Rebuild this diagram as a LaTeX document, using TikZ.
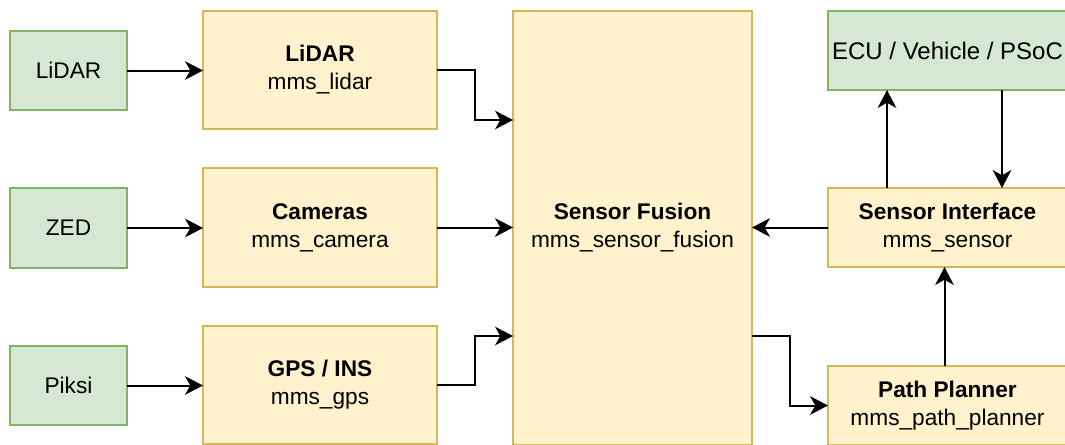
\documentclass[tikz,border=0pt]{standalone}
\usepackage{fontspec}
\setmainfont{Liberation Sans}
\usetikzlibrary{arrows.meta}
\definecolor{gfill}{HTML}{D5E8D4}
\definecolor{gline}{HTML}{82B366}
\definecolor{yfill}{HTML}{FFF2CC}
\definecolor{yline}{HTML}{D6B656}
\begin{document}
\begin{tikzpicture}[x=0.75pt,y=-0.75pt,
  every node/.style={inner sep=0pt, outer sep=0pt, align=center,
    font=\fontsize{17}{21}\selectfont},
  gbox/.style={draw=gline, fill=gfill, line width=1.5pt, text depth=-3pt},
  ybox/.style={draw=yline, fill=yfill, line width=1.5pt},
  arr/.style={draw=black, line width=1.5pt,
    -{Stealth[length=13.5pt,width=14pt,inset=4pt]}}]
\useasboundingbox (0,0) rectangle (1065,444);
\clip (0,0) rectangle (1065,444);
\fill[white] (0,0) rectangle (1065,444);
% green sources
\node[gbox, minimum width=87.75pt, minimum height=59.25pt] (gL) at (68.5,70.5) {LiDAR};
\node[gbox, minimum width=87.75pt, minimum height=60pt] (gZ) at (68.5,228) {ZED};
\node[gbox, minimum width=87.75pt, minimum height=59.25pt] (gP) at (68.5,385.5) {Piksi};
% yellow drivers
\node[ybox, minimum width=175.5pt, minimum height=88.5pt] (yL) at (320,70) {\textbf{LiDAR}\\mms\_lidar};
\node[ybox, minimum width=175.5pt, minimum height=89.25pt] (yC) at (320,227.5) {\textbf{Cameras}\\mms\_camera};
\node[ybox, minimum width=175.5pt, minimum height=88.5pt] (yG) at (320,385) {\textbf{GPS / INS}\\mms\_gps};
% sensor fusion
\node[ybox, minimum width=179.25pt, minimum height=325.5pt] (sf) at (632.5,228) {\textbf{Sensor Fusion}\\mms\_sensor\_fusion};
% right column
\node[draw=gline, fill=gfill, line width=1.5pt, minimum width=179.25pt, minimum height=59.25pt, font=\fontsize{18}{21}\selectfont] (ecu) at (947.5,50.5) {ECU / Vehicle / PSoC};
\node[ybox, minimum width=179.25pt, minimum height=59.25pt] (si) at (947.5,227.5) {\textbf{Sensor Interface}\\mms\_sensor};
\node[ybox, minimum width=179.25pt, minimum height=59.25pt] (pp) at (947.5,405.5) {\textbf{Path Planner}\\mms\_path\_planner};
% helper coordinates
\coordinate (k1) at (475,120);
\coordinate (k2) at (475,336);
\coordinate (k3) at (790,336);
\coordinate (c1) at (887,0);
\coordinate (c2) at (1002,0);
\coordinate (c3) at (944.5,0);
% connectors
\draw[arr] (gL.east) -- (yL.west |- gL.east);
\draw[arr] (gZ.east) -- (yC.west |- gZ.east);
\draw[arr] (gP.east) -- (yG.west |- gP.east);
\draw[arr] (yL.east) -| (k1) -- (k1 -| sf.west);
\draw[arr] (yC.east) -- (sf.west |- yC.east);
\draw[arr] (yG.east) -| (k2) -- (k2 -| sf.west);
\draw[arr] (si.west) -- (si.west -| sf.east);
\draw[arr] (si.north -| c1) -- (ecu.south -| c1);
\draw[arr] (ecu.south -| c2) -- (si.north -| c2);
\draw[arr] (sf.east |- k3) -- (k3) |- (pp.west);
\draw[arr] (pp.north -| c3) -- (si.south -| c3);
\end{tikzpicture}
\end{document}
